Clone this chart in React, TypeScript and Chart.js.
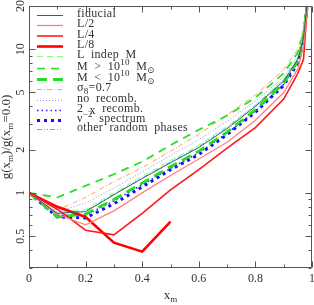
import React, { useEffect, useRef } from 'react';
import { Chart, registerables } from 'chart.js';

Chart.register(...registerables);

// ---------- data ----------
const xValues = [0, 0.1, 0.2, 0.3, 0.4, 0.5, 0.6, 0.7, 0.8, 0.9, 0.95, 0.97, 0.99];

const fiducial = [1, 0.72, 0.74, 0.97, 1.26, 1.62, 2.07, 2.8, 4.0, 6.0, 8.5, 12, 28];
const lHalf = [1, 0.71, 0.6, 0.75, 1.0, 1.32, 1.72, 2.25, 3.2, 5.0, 7.3, 10.5, 26];
const lQuarter = [1, 0.77, 0.55, 0.51, 0.72, 1.05, 1.45, 2.05, 2.85, 4.5, 6.8, 8.5, 30];
const lEighth = [1, 0.8, 0.68, 0.45, 0.39, 0.63];
const lIndepM = [1, 0.73, 0.77, 1.0, 1.3, 1.68, 2.15, 2.9, 4.1, 6.2, 8.8, 12.5, 28];
const mAbove = [1, 0.93, 1.12, 1.35, 1.65, 2.15, 2.75, 3.45, 4.6, 6.8, 9.5, 13, 28];
const mBelow = [1, 0.68, 0.71, 0.9, 1.17, 1.52, 1.95, 2.65, 3.8, 5.8, 8.3, 12, 28];
const sigma8 = [1, 0.76, 0.93, 1.2, 1.5, 1.95, 2.55, 3.5, 4.8, 7.2, 10, 14, 30];
const noRecomb = [1, 0.74, 0.85, 1.08, 1.4, 1.82, 2.35, 3.15, 4.35, 6.4, 9, 13, 28];
const twoRecomb = [1, 0.7, 0.7, 0.88, 1.14, 1.48, 1.9, 2.6, 3.7, 5.7, 8.2, 12, 28];
const nuSpectrum = [1, 0.68, 0.67, 0.84, 1.1, 1.45, 1.85, 2.55, 3.65, 5.6, 8.0, 11.5, 28];
const otherPhases = [1, 0.72, 0.75, 0.98, 1.27, 1.64, 2.1, 2.85, 4.05, 6.1, 8.6, 12.2, 28];

const xTicks = [0, 0.2, 0.4, 0.6, 0.8, 1];
const xTickLabels = ['0', '0.2', '0.4', '0.6', '0.8', '1'];
const xMinorTicks = [0.1, 0.3, 0.5, 0.7, 0.9];
const yTicks = [0.5, 1, 2, 5, 10, 20];
const yTickLabels = ['0.5', '1', '2', '5', '10', '20'];
const yMinorTicks = [0.3, 0.4, 0.6, 0.7, 0.8, 0.9, 3, 4, 6, 7, 8, 9];

const SERIF = "'Liberation Serif', 'DejaVu Serif', serif";

type Seg = { t: string; s?: 'sup' | 'sub' | 'low' };

interface Series {
  label: Seg[];
  data: number[];
  color: string;
  width: number;
  dash: number[];
}

const series: Series[] = [
  { label: [{ t: 'fiducial' }], data: fiducial, color: '#555555', width: 1, dash: [] },
  { label: [{ t: 'L/2' }], data: lHalf, color: '#ff8080', width: 1.3, dash: [] },
  { label: [{ t: 'L/4' }], data: lQuarter, color: '#ff1a1a', width: 1.6, dash: [] },
  { label: [{ t: 'L/8' }], data: lEighth, color: '#ff0000', width: 2.6, dash: [] },
  { label: [{ t: 'L indep M' }], data: lIndepM, color: '#80ff80', width: 1, dash: [6, 4] },
  {
    label: [{ t: 'M > 10' }, { t: '10', s: 'sup' }, { t: ' M' }, { t: '\u2299', s: 'sub' }],
    data: mAbove, color: '#22dd22', width: 1.7, dash: [8, 6],
  },
  {
    label: [{ t: 'M < 10' }, { t: '10', s: 'sup' }, { t: ' M' }, { t: '\u2299', s: 'sub' }],
    data: mBelow, color: '#22dd22', width: 2.8, dash: [10, 6],
  },
  { label: [{ t: '\u03c3' }, { t: '8', s: 'sub' }, { t: '=0.7' }], data: sigma8, color: '#ffa54f', width: 1, dash: [5, 2, 1, 2] },
  { label: [{ t: 'no recomb.' }], data: noRecomb, color: '#8c8cff', width: 1, dash: [1, 2] },
  { label: [{ t: '2 ' }, { t: 'x', s: 'low' }, { t: ' recomb.' }], data: twoRecomb, color: '#2020ff', width: 1.5, dash: [1.5, 3] },
  { label: [{ t: '\u03bd' }, { t: '\u22122', s: 'sup' }, { t: ' spectrum' }], data: nuSpectrum, color: '#1010ff', width: 3, dash: [3, 4] },
  { label: [{ t: 'other random phases' }], data: otherPhases, color: '#00e0e0', width: 1, dash: [5, 2, 1, 2, 1, 2] },
];

const legendBaselines = [17, 27, 37.5, 48, 58, 70, 81, 91, 102, 112, 122, 131];

function drawSegs(ctx: CanvasRenderingContext2D, segs: Seg[], x: number, y: number, size: number, align: 'left' | 'center') {
  const base = `${size}px ${SERIF}`;
  const small = `${Math.round(size * 0.72)}px ${SERIF}`;
  let total = 0;
  const widths: number[] = [];
  for (const sg of segs) {
    ctx.font = sg.s === 'sup' || sg.s === 'sub' ? small : base;
    const w = ctx.measureText(sg.t).width;
    widths.push(w);
    total += w;
  }
  let cx = align === 'center' ? x - total / 2 : x;
  segs.forEach((sg, i) => {
    ctx.font = sg.s === 'sup' || sg.s === 'sub' ? small : base;
    const dy = sg.s === 'sup' ? -size * 0.42 : sg.s === 'sub' ? size * 0.25 : sg.s === 'low' ? size * 0.17 : 0;
    ctx.fillText(sg.t, cx, y + dy);
    cx += widths[i];
  });
}

const decorPlugin = {
  id: 'decor',
  afterDatasetsDraw(chart: any) {
    const { ctx, chartArea: a, scales } = chart;
    const xs = scales.x;
    const ys = scales.y;
    const L = Math.round(a.left) + 0.5;
    const R = Math.round(a.right) - 0.5;
    const T = Math.round(a.top) + 0.5;
    const B = Math.round(a.bottom) - 0.5;
    ctx.save();
    ctx.strokeStyle = '#555555';
    ctx.lineWidth = 1;
    ctx.setLineDash([]);
    ctx.beginPath();
    ctx.rect(L, T, R - L, B - T);
    const xt = (v: number, len: number) => {
      const px = Math.round(xs.getPixelForValue(v)) + 0.5;
      ctx.moveTo(px, B);
      ctx.lineTo(px, B - len);
      ctx.moveTo(px, T);
      ctx.lineTo(px, T + len);
    };
    xTicks.forEach((v) => xt(v, 6));
    xMinorTicks.forEach((v) => xt(v, 3));
    const yt = (v: number, len: number) => {
      const py = Math.round(ys.getPixelForValue(v)) + 0.5;
      ctx.moveTo(L, py);
      ctx.lineTo(L + len, py);
      ctx.moveTo(R, py);
      ctx.lineTo(R - len, py);
    };
    yTicks.forEach((v) => yt(v, 6));
    yMinorTicks.forEach((v) => yt(v, 3));
    ctx.stroke();

    // tick labels
    ctx.fillStyle = '#333333';
    ctx.textBaseline = 'alphabetic';
    ctx.font = `12px ${SERIF}`;
    ctx.textAlign = 'center';
    xTicks.forEach((v, i) => {
      ctx.fillText(xTickLabels[i], xs.getPixelForValue(v), 282);
    });
    yTicks.forEach((v, i) => {
      ctx.save();
      ctx.translate(24, ys.getPixelForValue(v));
      ctx.rotate(-Math.PI / 2);
      ctx.fillText(yTickLabels[i], 0, 0);
      ctx.restore();
    });

    // axis titles
    ctx.textAlign = 'left';
    drawSegs(ctx, [{ t: 'x' }, { t: 'm', s: 'sub' }], (a.left + a.right) / 2, 299, 13, 'center');
    ctx.save();
    ctx.translate(10, (a.top + a.bottom) / 2);
    ctx.rotate(-Math.PI / 2);
    drawSegs(
      ctx,
      [{ t: 'g(x' }, { t: 'm', s: 'sub' }, { t: ')/g(x' }, { t: 'm', s: 'sub' }, { t: '=0.0)' }],
      0, 0, 13, 'center'
    );
    ctx.restore();

    // legend
    series.forEach((s, i) => {
      const by = legendBaselines[i];
      const ly = by - 1.5;
      ctx.beginPath();
      ctx.strokeStyle = s.color;
      ctx.lineWidth = s.width;
      ctx.setLineDash(s.dash);
      ctx.moveTo(37, ly);
      ctx.lineTo(63, ly);
      ctx.stroke();
      ctx.setLineDash([]);
      ctx.fillStyle = '#333333';
      ctx.save();
      (ctx as any).letterSpacing = '0.3px';
      (ctx as any).wordSpacing = '3px';
      drawSegs(ctx, s.label, 77, by, 12, 'left');
      ctx.restore();
    });
    ctx.restore();
  },
};

export default function App() {
  const ref = useRef<HTMLCanvasElement | null>(null);
  useEffect(() => {
    if (!ref.current) return;
    const chart = new Chart(ref.current, {
      type: 'line',
      data: {
        datasets: series.map((s) => ({
          label: s.label.map((g) => g.t).join(''),
          data: s.data.map((y, i) => ({ x: xValues[i], y })),
          borderColor: s.color,
          borderWidth: s.width,
          borderDash: s.dash,
          pointRadius: 0,
          tension: 0,
          fill: false,
        })),
      },
      options: {
        animation: false,
        responsive: false,
        events: [],
        layout: { padding: { left: 29, right: 2, top: 6, bottom: 37 } },
        plugins: { legend: { display: false }, tooltip: { enabled: false } },
        scales: {
          x: { type: 'linear', min: 0, max: 1, display: false },
          y: { type: 'logarithmic', min: 0.3, max: 20, display: false },
        },
      },
      plugins: [decorPlugin],
    });
    return () => chart.destroy();
  }, []);
  return (
    <div style={{ position: 'absolute', left: 0, top: 0, width: 314, height: 305, background: '#fff' }}>
      <canvas ref={ref} width={314} height={305} style={{ display: 'block' }} />
    </div>
  );
}
